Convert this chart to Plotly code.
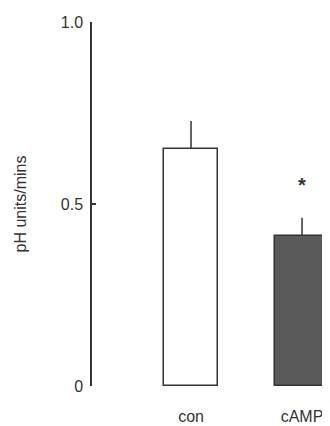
import plotly.graph_objects as go

categories = ["con", "cAMP"]
values = [0.651, 0.412]
errors = [0.077, 0.050]
fills = ["#ffffff", "#5a5a5a"]
sig_labels = ["", "*"]
sig_y = [None, 0.552]
ytick_vals = [0, 0.5, 1.0]
ytick_text = ["0", "0.5", "1.0"]

FONT = "Liberation Sans, Arial, sans-serif"
INK = "#333333"

fig = go.Figure()
fig.add_trace(go.Bar(
    x=list(range(len(categories))),
    y=values,
    width=0.495,
    marker=dict(color=fills, line=dict(color=INK, width=1.5)),
    error_y=dict(type="data", array=errors, arrayminus=[0] * len(errors),
                 symmetric=False, width=0, thickness=1.5, color=INK),
    showlegend=False,
))

for i, (lab, yy) in enumerate(zip(sig_labels, sig_y)):
    if lab:
        fig.add_annotation(x=i, y=yy, text="<b>" + lab + "</b>", showarrow=False,
                           font=dict(family=FONT, size=20, color=INK),
                           xanchor="center", yanchor="middle")

fig.update_layout(
    width=322, height=418,
    margin=dict(l=84, r=0, t=14, b=40),
    paper_bgcolor="white", plot_bgcolor="white",
    font=dict(family=FONT, color=INK),
    bargap=0,
)
fig.update_xaxes(
    range=[-0.892, 1.252],
    tickvals=list(range(len(categories))), ticktext=categories,
    showline=False, showgrid=False, zeroline=False, ticks="",
    tickfont=dict(family=FONT, size=16, color=INK),
    ticklabelstandoff=19,
)
fig.update_yaxes(
    range=[0, 1.0],
    tickvals=ytick_vals, ticktext=ytick_text,
    showline=True, linecolor=INK, linewidth=1.5,
    ticks="inside", ticklen=4, tickwidth=1.5, tickcolor=INK,
    showgrid=False, zeroline=False,
    tickfont=dict(family=FONT, size=16, color=INK),
    ticklabelstandoff=4,
    title=dict(text="pH units/mins", font=dict(family=FONT, size=16, color=INK), standoff=30),
)

fig.write_html("out.html")
